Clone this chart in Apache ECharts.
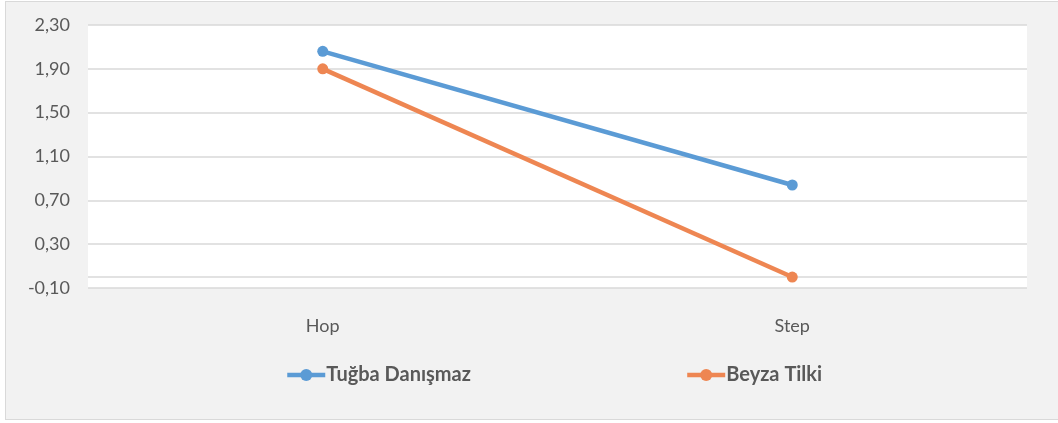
<!DOCTYPE html>
<html>
<head>
<meta charset="utf-8">
<script src="https://cdn.jsdelivr.net/npm/echarts@6/dist/echarts.min.js"></script>
<style>
    html, body { margin: 0; padding: 0; background: #ffffff; }
    #frame {
        position: absolute; left: 5px; top: 1px; width: 1060px; height: 419px;
        background: #f2f2f2; border: 1.5px solid #d9d9d9; box-sizing: border-box;
    }
    #main { position: absolute; left: 0; top: 0; width: 1058px; height: 423px; }
</style>
</head>
<body>
<div id="frame"></div>
<div id="main"></div>
<script>
// categories and values
var categories = ['Hop', 'Step'];
var tugba = [2.06, 0.84];
var beyza = [1.90, 0.00];
var seriesNames = ['Tuğba Danışmaz', 'Beyza Tilki'];

var font = 'Lato';

function makeSeries(name, data, color, extra) {
    var s = {
        name: name,
        type: 'line',
        data: data,
        symbol: 'circle',
        symbolSize: 11,
        lineStyle: { color: color, width: 4.5 },
        itemStyle: { color: color },
        z: 3
    };
    if (extra) {
        for (var k in extra) s[k] = extra[k];
    }
    return s;
}

var myChart = echarts.init(document.getElementById('main'));
var option = {
    backgroundColor: 'transparent',
    animation: false,
    grid: { left: 88, right: 31, top: 25, bottom: 135, containLabel: false,
            show: true, backgroundColor: '#ffffff', borderWidth: 0 },
    legend: {
        data: seriesNames,
        left: 280,
        top: 360,
        itemGap: 214,
        itemWidth: 38,
        itemHeight: 15,
        lineStyle: { width: 4.5 },
        textStyle: { fontFamily: font, fontSize: 20, fontWeight: 'bold', color: '#595959', padding: [0, 0, 0, -4] }
    },
    xAxis: {
        type: 'category',
        data: categories,
        boundaryGap: true,
        axisLine: { show: false, onZero: false },
        axisTick: { show: false },
        axisLabel: { margin: 29, fontFamily: font, fontSize: 18, color: '#595959' }
    },
    yAxis: {
        type: 'value',
        min: -0.1,
        max: 2.3,
        interval: 0.4,
        axisLine: { show: false },
        axisTick: { show: false },
        splitLine: { lineStyle: { color: '#d9d9d9', width: 1.5 } },
        axisLabel: {
            margin: 18,
            fontFamily: font, fontSize: 18, color: '#595959',
            formatter: function (v) { return v.toFixed(2).replace('.', ','); }
        }
    },
    series: [
        makeSeries(seriesNames[0], tugba, '#5b9bd5', {
            markLine: {
                silent: true,
                symbol: ['none', 'none'],
                label: { show: false },
                lineStyle: { color: '#d9d9d9', width: 1.5, type: 'solid' },
                data: [{ yAxis: 0 }],
                z: 1
            }
        }),
        makeSeries(seriesNames[1], beyza, '#ee8652')
    ]
};
myChart.setOption(option, true);
</script>
</body>
</html>
